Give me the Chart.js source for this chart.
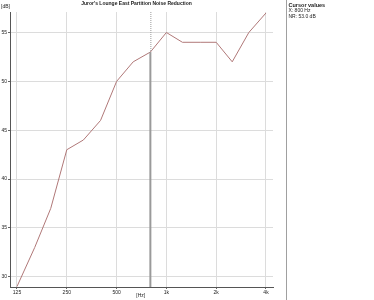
<!DOCTYPE html>
<html>
<head>
<meta charset="utf-8">
<script src="https://cdn.jsdelivr.net/npm/chart.js@4.4.1/dist/chart.umd.min.js"></script>
<style>
  html, body { margin: 0; padding: 0; background: #fff; }
  #wrap { width: 374px; height: 300px; }
</style>
</head>
<body>
<div id="wrap"><canvas id="nrChart" width="374" height="300"></canvas></div>
<script>
const TITLE = "Juror's Lounge East Partition Noise Reduction";
const FREQS = [125, 160, 200, 250, 315, 400, 500, 630, 800, 1000, 1250, 1600, 2000, 2500, 3150, 4000];
const NR_VALUES = [29, 33, 37, 43, 44, 46, 50, 52, 53, 55, 54, 54, 54, 52, 55, 57];
const X_TICKS = [125, 250, 500, 1000, 2000, 4000];
const X_LABELS = ['125', '250', '500', '1k', '2k', '4k'];
const Y_TICKS = [30, 35, 40, 45, 50, 55];
const CURSOR_X = 800;
const CURSOR_Y = 53.0;

const FONT = "'Liberation Sans', Arial, sans-serif";

// panel, labels, cursor line
const extras = {
  id: 'extras',
  afterDatasetsDraw(chart) {
    const { ctx, chartArea, scales } = chart;
    const cx = scales.x.getPixelForValue(CURSOR_X);
    const cy = scales.y.getPixelForValue(CURSOR_Y);
    ctx.save();
    // cursor
    ctx.strokeStyle = '#9a9a9a';
    ctx.lineWidth = 2;
    ctx.beginPath();
    ctx.moveTo(cx, cy);
    ctx.lineTo(cx, chartArea.bottom);
    ctx.stroke();
    ctx.lineWidth = 1;
    ctx.setLineDash([1, 1]);
    ctx.beginPath();
    ctx.moveTo(cx + 0.5, chartArea.top);
    ctx.lineTo(cx + 0.5, cy);
    ctx.stroke();
    ctx.setLineDash([]);

    // separator
    const sx = Math.round(chartArea.right + 13) + 0.5;
    ctx.strokeStyle = '#a0a0a0';
    ctx.beginPath();
    ctx.moveTo(sx, 0);
    ctx.lineTo(sx, chart.height);
    ctx.stroke();

    // texts
    ctx.fillStyle = '#222';
    ctx.textBaseline = 'middle';
    ctx.font = 'bold 5px ' + FONT;
    ctx.textAlign = 'center';
    ctx.fillText(TITLE, scales.x.getPixelForValue(660), 4);

    ctx.font = '5px ' + FONT;
    ctx.textAlign = 'left';
    ctx.fillText('[dB]', 1, 7);
    ctx.textAlign = 'center';
    ctx.fillText('[Hz]', scales.x.getPixelForValue(700), 296);

    ctx.textAlign = 'left';
    ctx.font = 'bold 5.5px ' + FONT;
    ctx.fillText('Cursor values', sx + 2, 5);
    ctx.font = '5px ' + FONT;
    ctx.fillText('X: ' + CURSOR_X + ' Hz', sx + 2, 11);
    ctx.fillText('NR: ' + CURSOR_Y.toFixed(1) + ' dB', sx + 2, 17);
    ctx.restore();
  }
};

new Chart(document.getElementById('nrChart'), {
  type: 'line',
  data: {
    labels: FREQS,
    datasets: [{
      label: 'NR',
      data: FREQS.map((f, i) => ({ x: f, y: NR_VALUES[i] })),
      borderColor: '#b07878',
      borderWidth: 1,
      pointRadius: 0,
      tension: 0,
      fill: false
    }]
  },
  options: {
    responsive: false,
    animation: false,
    events: [],
    layout: { padding: { top: 12, right: 101, left: 0, bottom: 0 } },
    plugins: { legend: { display: false }, tooltip: { enabled: false }, title: { display: false } },
    scales: {
      x: {
        type: 'logarithmic',
        min: 113.4,
        max: 4410,
        afterBuildTicks: (s) => { s.ticks = X_TICKS.map(v => ({ value: v })); },
        afterFit: (s) => { s.height = 13; },
        ticks: {
          autoSkip: false,
          maxRotation: 0,
          padding: 1,
          color: '#222',
          font: { family: FONT, size: 5 },
          callback: (v, i) => X_LABELS[i]
        },
        grid: { color: '#dcdcdc', tickColor: '#666', tickLength: 2 },
        border: { color: '#555' }
      },
      y: {
        min: 28.95,
        max: 57.1,
        afterBuildTicks: (s) => { s.ticks = Y_TICKS.map(v => ({ value: v })); },
        afterFit: (s) => { s.width = 10; },
        ticks: {
          padding: 1,
          color: '#222',
          font: { family: FONT, size: 5 }
        },
        grid: { color: '#dcdcdc', tickColor: '#666', tickLength: 2 },
        border: { color: '#555' }
      }
    }
  },
  plugins: [extras]
});
</script>
</body>
</html>
